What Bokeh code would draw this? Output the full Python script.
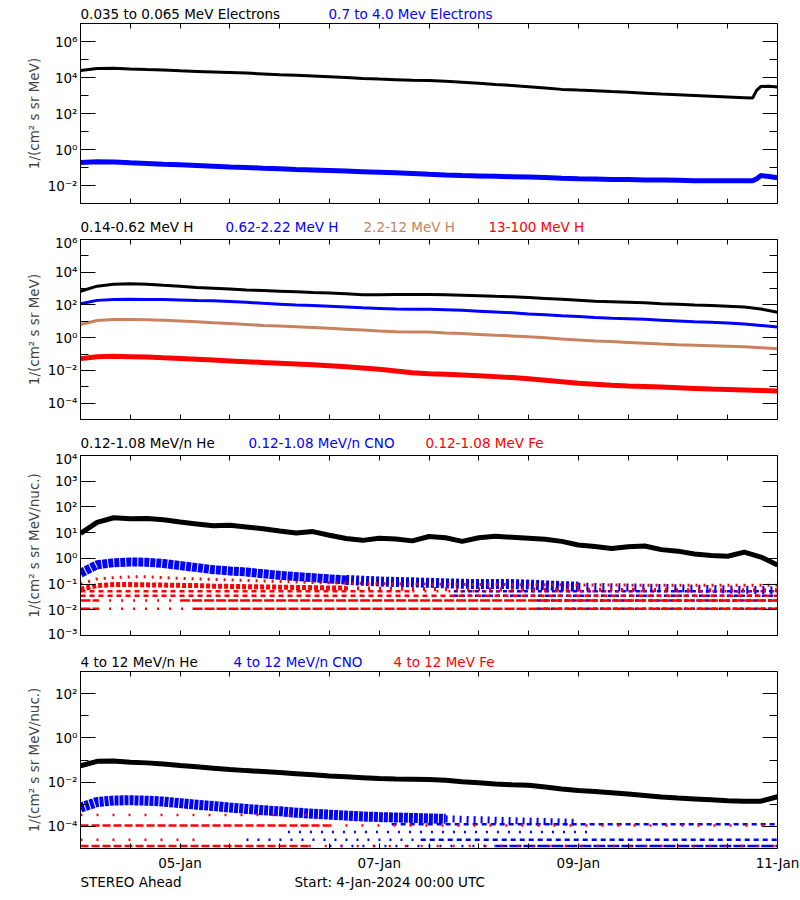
from bokeh.plotting import figure
from bokeh.models import Range1d, FixedTicker, LinearAxis, LogAxis, CustomJSTickFormatter
from bokeh.layouts import column
from bokeh.core.properties import value
from bokeh.embed import file_html
from bokeh.resources import INLINE

FONT = "DejaVu Sans"
FS = "13.5px"
BLACK, BLUE, RED, BROWN = "#000000", "#0000ff", "#ff0000", "#c8825f"

# ---------------- data (hours since 4-Jan-2024 00:00 UTC; values as log10 of flux) -------------
hours = [0, 4, 8, 12, 16, 20, 24, 28, 32, 36, 40, 44, 48, 52, 56, 60, 64, 68, 72, 76, 80, 84,
         88, 92, 96, 100, 104, 108, 112, 116, 120, 124, 128, 132, 136, 140, 144, 148, 152, 156,
         160, 164, 168]
hours_e = [0, 4, 8, 12, 16, 20, 24, 28, 32, 36, 40, 44, 48, 52, 56, 60, 64, 68, 72, 76, 80, 84,
           88, 92, 96, 100, 104, 108, 112, 116, 120, 124, 128, 132, 136, 140, 144, 148, 152, 156,
           160, 162, 163, 164, 166, 168]

# panel 1: electrons
e_low_log = [4.39, 4.50, 4.52, 4.47, 4.44, 4.42, 4.37, 4.34, 4.31, 4.28, 4.25, 4.20, 4.15, 4.12,
             4.08, 4.04, 4.00, 3.95, 3.91, 3.88, 3.85, 3.83, 3.79, 3.74, 3.68, 3.61, 3.56, 3.49,
             3.42, 3.34, 3.30, 3.27, 3.22, 3.18, 3.13, 3.08, 3.04, 3.00, 2.96, 2.92, 2.88, 2.86,
             3.30, 3.50, 3.52, 3.47]
e_high_log = [-0.72, -0.68, -0.69, -0.74, -0.78, -0.82, -0.85, -0.89, -0.93, -0.97, -1.00, -1.04,
              -1.07, -1.11, -1.14, -1.17, -1.20, -1.23, -1.26, -1.29, -1.33, -1.38, -1.42, -1.45,
              -1.47, -1.49, -1.51, -1.53, -1.56, -1.60, -1.63, -1.64, -1.66, -1.67, -1.69, -1.70,
              -1.71, -1.73, -1.74, -1.74, -1.74, -1.74, -1.62, -1.45, -1.50, -1.57]

# panel 2: protons
h1_log = [2.84, 3.15, 3.26, 3.29, 3.27, 3.20, 3.14, 3.07, 3.02, 2.97, 2.92, 2.88, 2.84, 2.80, 2.76,
          2.73, 2.68, 2.63, 2.63, 2.64, 2.64, 2.64, 2.62, 2.60, 2.57, 2.53, 2.50, 2.45, 2.40, 2.35,
          2.29, 2.23, 2.20, 2.17, 2.13, 2.08, 2.04, 1.99, 1.96, 1.92, 1.88, 1.75, 1.56]
h2_log = [2.07, 2.28, 2.34, 2.35, 2.34, 2.33, 2.30, 2.27, 2.25, 2.21, 2.16, 2.10, 2.05, 2.00, 1.96,
          1.92, 1.88, 1.83, 1.79, 1.75, 1.74, 1.73, 1.70, 1.67, 1.62, 1.57, 1.52, 1.45, 1.40, 1.34,
          1.29, 1.23, 1.19, 1.16, 1.12, 1.07, 1.02, 0.97, 0.94, 0.89, 0.84, 0.75, 0.65]
h3_log = [0.81, 1.05, 1.11, 1.11, 1.10, 1.06, 1.02, 0.97, 0.91, 0.86, 0.81, 0.75, 0.71, 0.67, 0.62,
          0.57, 0.52, 0.47, 0.41, 0.36, 0.34, 0.34, 0.29, 0.25, 0.20, 0.15, 0.11, 0.05, 0.00, -0.08,
          -0.14, -0.20, -0.24, -0.29, -0.34, -0.39, -0.43, -0.46, -0.49, -0.52, -0.56, -0.61, -0.67]
h4_log = [-1.28, -1.17, -1.14, -1.16, -1.18, -1.23, -1.27, -1.32, -1.37, -1.42, -1.47, -1.52, -1.56,
          -1.61, -1.66, -1.71, -1.77, -1.85, -1.93, -2.03, -2.14, -2.20, -2.24, -2.28, -2.33, -2.38,
          -2.44, -2.51, -2.60, -2.69, -2.78, -2.84, -2.91, -2.95, -2.98, -3.02, -3.06, -3.10, -3.14,
          -3.17, -3.20, -3.23, -3.26]

# panel 3: 0.12-1.08 MeV/n heavy ions
he_lo_log = [0.97, 1.40, 1.58, 1.54, 1.55, 1.50, 1.41, 1.34, 1.27, 1.29, 1.22, 1.15, 1.06, 0.99,
             1.04, 0.90, 0.77, 0.70, 0.78, 0.75, 0.68, 0.85, 0.80, 0.66, 0.80, 0.86, 0.82, 0.78,
             0.74, 0.66, 0.52, 0.46, 0.38, 0.45, 0.48, 0.34, 0.28, 0.17, 0.11, 0.08, 0.24, 0.05,
             -0.26]
cno_lo_log = [-0.58, -0.25, -0.17, -0.14, -0.15, -0.20, -0.28, -0.36, -0.44, -0.49, -0.53, -0.60,
              -0.66, -0.71, -0.75, -0.80, -0.84, -0.87, -0.90, -0.92, -0.93, -0.95, -0.97, -0.99,
              -1.00, -1.00, -1.00, -1.02, -1.05, -1.08, -1.10, -1.11, -1.12, -1.13, -1.14, -1.15,
              -1.16, -1.18, -1.19, -1.21, -1.22, -1.23, -1.24]
fe_lo_log = [-1.20, -1.06, -1.02, -1.02, -1.03, -1.04, -1.05, -1.06, -1.08, -1.09, -1.10, -1.11,
             -1.12, -1.13, -1.14, -1.15, -1.16, -1.17, -1.18, -1.18, -1.19, -1.19, -1.20, -1.20,
             -1.20, -1.21, -1.21, -1.21, -1.22, -1.22, -1.22, -1.22, -1.23, -1.23, -1.23, -1.23,
             -1.24, -1.24, -1.24, -1.24, -1.24, -1.24, -1.24]
fe_lo_top_log = [-1.00, -0.80, -0.75, -0.72, -0.72, -0.75, -0.78, -0.80, -0.82, -0.84, -0.86,
                 -0.88, -0.90, -0.92, -0.94, -0.95, -0.96, -0.97, -0.98, -0.99, -1.00, -1.00,
                 -1.01, -1.01, -1.02, -1.02, -1.02, -1.03, -1.03, -1.03, -1.04, -1.04, -1.04,
                 -1.04, -1.05, -1.05, -1.05, -1.05, -1.05, -1.05, -1.05, -1.05, -1.05]
# count-quantised rows (level, start hour, end hour)
fe3_dense = {"lv": [0.011, 0.023, 0.011, 0.023], "t0": [0, 0, 27, 24], "t1": [4, 4, 168, 168]}
fe3_medium = {"lv": [0.035, 0.052], "t0": [0, 0], "t1": [168, 80]}
fe3_sparse = {"lv": [0.011, 0.023, 0.052], "t0": [4, 4, 80], "t1": [27, 24, 168]}
cno3_rows = {"lv": [0.052, 0.035, 0.023, 0.011], "t0": [90, 90, 110, 110], "t1": [168, 168, 168, 168]}

# panel 4: 4-12 MeV/n heavy ions
he_hi_log = [-1.26, -1.06, -1.05, -1.10, -1.13, -1.18, -1.25, -1.31, -1.37, -1.43, -1.48, -1.52,
             -1.57, -1.62, -1.67, -1.72, -1.76, -1.80, -1.84, -1.86, -1.87, -1.88, -1.92, -1.98,
             -2.03, -2.08, -2.12, -2.14, -2.22, -2.31, -2.38, -2.42, -2.48, -2.54, -2.60, -2.67,
             -2.72, -2.76, -2.80, -2.84, -2.86, -2.86, -2.66]
cno_hi_log = [-3.15, -2.90, -2.83, -2.82, -2.84, -2.88, -2.95, -3.02, -3.08, -3.15, -3.21, -3.27,
              -3.32, -3.38, -3.43, -3.47, -3.51, -3.55, -3.58, -3.60, -3.62, -3.64, -3.66, -3.68,
              -3.70, -3.72, -3.74, -3.76, -3.78, -3.80, -3.82]
fe4_dense = {"lv": [1.1e-4, 1.3e-5], "t0": [0, 0], "t1": [60, 55]}
fe4_sparse = {"lv": [2.5e-5, 1.1e-4, 1.3e-5, 3.3e-4], "t0": [0, 60, 55, 0], "t1": [30, 168, 168, 55]}
cno4_dense = {"lv": [1.3e-5], "t0": [100], "t1": [168]}
cno4_medium = {"lv": [1.26e-4, 2.5e-5], "t0": [75, 82], "t1": [168, 168]}
cno4_sparse = {"lv": [5.6e-5, 1.3e-5, 2.5e-5], "t0": [50, 60, 40], "t1": [124, 100, 82]}

# axis ticks and labels
x_ticks = [0, 12, 24, 36, 48, 60, 72, 84, 96, 108, 120, 132, 144, 156, 168]
day_ticks = [24, 72, 120, 168]
day_labels = ["05-Jan", "07-Jan", "09-Jan", "11-Jan"]

# titles
t1_text = ["0.035 to 0.065 MeV Electrons", "0.7 to 4.0 Mev Electrons"]
t2_text = ["0.14-0.62 MeV H", "0.62-2.22 MeV H", "2.2-12 MeV H", "13-100 MeV H"]
t3_text = ["0.12-1.08 MeV/n He", "0.12-1.08 MeV/n CNO", "0.12-1.08 MeV Fe"]
t4_text = ["4 to 12 MeV/n He", "4 to 12 MeV/n CNO", "4 to 12 MeV Fe"]
foot_text = ["STEREO Ahead", "Start:  4-Jan-2024 00:00 UTC"]

W = 800
LEFT, FRAME_W = 80, 697
RIGHT = W - LEFT - FRAME_W


def lin(vals):
    return [10.0 ** v for v in vals]


def pow_formatter():
    return CustomJSTickFormatter(code="""
const sup = {'0':'\u2070','1':'\u00b9','2':'\u00b2','3':'\u00b3','4':'\u2074','5':'\u2075',
             '6':'\u2076','7':'\u2077','8':'\u2078','9':'\u2079','-':'\u207b'};
const e = Math.round(Math.log10(tick));
return '10' + String(e).split('').map(c => sup[c]).join('');
""")


def blank():
    return CustomJSTickFormatter(code="return '';")


def strip(height, texts, xs, colors, ymid):
    # text band; x in page pixels, y in pixels from the band's top
    s = figure(width=W, height=height, x_range=Range1d(LEFT, LEFT + FRAME_W),
               y_range=Range1d(height, 0), title=None,
               x_axis_location=None, y_axis_location=None, toolbar_location=None,
               output_backend="svg", min_border_left=LEFT, min_border_right=RIGHT,
               min_border_top=0, min_border_bottom=0)
    s.outline_line_color = None
    s.grid.visible = False
    s.text(x=xs, y=[ymid] * len(xs), text=texts, text_color=colors,
           text_font=value(FONT), text_font_size=value(FS), text_baseline="middle",
           text_align="left")
    return s


def make_panel(ylo, yhi, major, minor, ylabel, top, bottom, labelled_x):
    p = figure(width=W, height=top + 180 + bottom, x_range=Range1d(0, 168),
               y_range=Range1d(ylo, yhi), y_axis_type="log", output_backend="svg",
               title=None, toolbar_location=None, min_border_left=LEFT,
               min_border_right=RIGHT, min_border_top=top, min_border_bottom=bottom)
    p.xgrid.visible = False
    p.ygrid.visible = False
    p.outline_line_color = "black"
    p.outline_line_alpha = 1.0
    p.outline_line_width = 1
    p.background_fill_color = "white"
    p.border_fill_color = "white"

    ya = p.yaxis[0]
    ya.ticker = FixedTicker(ticks=major, minor_ticks=minor)
    ya.formatter = pow_formatter()
    ya.axis_label = ylabel
    ya.axis_label_text_font = FONT
    ya.axis_label_text_font_size = FS
    ya.axis_label_text_font_style = "normal"
    ya.axis_label_standoff = 3
    ya.major_label_text_font = FONT
    ya.major_label_text_font_size = FS
    ya.major_label_standoff = 3

    yr = LogAxis(ticker=FixedTicker(ticks=major, minor_ticks=minor), formatter=blank())
    yr.major_label_text_font_size = "0px"
    yr.major_label_standoff = 0
    p.add_layout(yr, "right")

    xb = p.xaxis[0]
    xb.ticker = FixedTicker(ticks=x_ticks)
    if labelled_x:
        xb.formatter = CustomJSTickFormatter(args=dict(pos=day_ticks, lab=day_labels), code="""
const i = pos.indexOf(tick); return i >= 0 ? lab[i] : '';""")
        xb.major_label_text_font = FONT
        xb.major_label_text_font_size = FS
        xb.major_label_standoff = 6
    else:
        xb.formatter = blank()
        xb.major_label_text_font_size = "0px"
        xb.major_label_standoff = 0
    xt = LinearAxis(ticker=FixedTicker(ticks=x_ticks), formatter=blank())
    xt.major_label_text_font_size = "0px"
    xt.major_label_standoff = 0
    p.add_layout(xt, "above")

    for ax in (ya, yr):
        ax.major_tick_in = 15
        ax.major_tick_out = 0
        ax.minor_tick_in = 8
        ax.minor_tick_out = 0
        ax.minor_tick_line_color = "black"
    for ax in (xb, xt):
        ax.major_tick_in = 5
        ax.major_tick_out = 0
        ax.minor_tick_line_color = None
    for ax in (ya, yr, xb, xt):
        ax.axis_line_color = "black"
        ax.major_tick_line_color = "black"
        ax.major_label_text_color = "black"
    return p


def rows(p, d, color, dash, lw=2.5):
    p.segment(x0=d["t0"], y0=d["lv"], x1=d["t1"], y1=d["lv"], line_color=color,
              line_width=lw, line_dash=dash)


UNIT = "1/(cm\u00b2 s sr MeV)"
UNIT_N = "1/(cm\u00b2 s sr MeV/nuc.)"

# ---------------- panel 1 ----------------
s1 = strip(21, t1_text, [80, 328], [BLACK, BLUE], 13)
p1 = make_panel(1e-3, 1e7, [1e-2, 1e0, 1e2, 1e4, 1e6], [1e-1, 1e1, 1e3, 1e5], UNIT, 2, 3, False)
p1.line(hours_e, lin(e_high_log), line_color=BLUE, line_width=5)
p1.line(hours_e, lin(e_low_log), line_color=BLACK, line_width=3)

# ---------------- panel 2 ----------------
s2 = strip(28, t2_text, [80, 225, 363, 488], [BLACK, BLUE, BROWN, RED], 20)
p2 = make_panel(1e-5, 1e6, [1e-4, 1e-2, 1e0, 1e2, 1e4, 1e6], [1e-3, 1e-1, 1e1, 1e3, 1e5], UNIT,
                5, 3, False)
p2.line(hours, lin(h4_log), line_color=RED, line_width=5)
p2.line(hours, lin(h3_log), line_color=BROWN, line_width=3)
p2.line(hours, lin(h2_log), line_color=BLUE, line_width=3)
p2.line(hours, lin(h1_log), line_color=BLACK, line_width=3)

# ---------------- panel 3 ----------------
s3 = strip(28, t3_text, [80, 248, 425], [BLACK, BLUE, RED], 20)
p3 = make_panel(1e-3, 1e4, [1e-3, 1e-2, 1e-1, 1e0, 1e1, 1e2, 1e3, 1e4], [], UNIT_N, 5, 6, False)
p3.line(hours[:17], lin(cno_lo_log[:17]), line_color=BLUE, line_width=9, line_dash="5 1")
p3.line(hours[16:31], lin(cno_lo_log[16:31]), line_color=BLUE, line_width=10, line_dash="3 2")
p3.line(hours[30:], lin(cno_lo_log[30:]), line_color=BLUE, line_width=8, line_dash="2 6")
rows(p3, cno3_rows, BLUE, "4 3")
p3.line(hours, lin(fe_lo_top_log), line_color=RED, line_width=3, line_dash="2 6")
p3.line(hours[:17], lin(fe_lo_log[:17]), line_color=RED, line_width=5, line_dash="4 2")
p3.line(hours[16:], lin(fe_lo_log[16:]), line_color=RED, line_width=4, line_dash="2 9")
rows(p3, fe3_dense, RED, "10 2")
rows(p3, fe3_medium, RED, "5 4")
rows(p3, fe3_sparse, RED, "2 10")
p3.line(hours, lin(he_lo_log), line_color=BLACK, line_width=5)

# ---------------- panel 4 ----------------
s4 = strip(28, t4_text, [80, 233, 393], [BLACK, BLUE, RED], 20)
p4 = make_panel(1e-5, 1e3, [1e-4, 1e-2, 1e0, 1e2], [1e-3, 1e-1, 1e1], UNIT_N, 2, 22, True)
p4.line(hours[:23], lin(cno_hi_log[:23]), line_color=BLUE, line_width=10, line_dash="4 1")
p4.line(hours[22:31], lin(cno_hi_log[22:31]), line_color=BLUE, line_width=7, line_dash="2 5")
rows(p4, cno4_dense, BLUE, "12 2")
rows(p4, cno4_medium, BLUE, "5 4")
rows(p4, cno4_sparse, BLUE, "2 9")
rows(p4, fe4_dense, RED, "8 3")
rows(p4, fe4_sparse, RED, "2 14")
p4.line(hours, lin(he_hi_log), line_color=BLACK, line_width=5)

s5 = strip(25, foot_text, [80, 294], [BLACK, BLACK], 8)

layout = column(s1, p1, s2, p2, s3, p3, s4, p4, s5, spacing=0)
with open("out.html", "w", encoding="utf-8") as f:
    f.write(file_html(layout, INLINE))
